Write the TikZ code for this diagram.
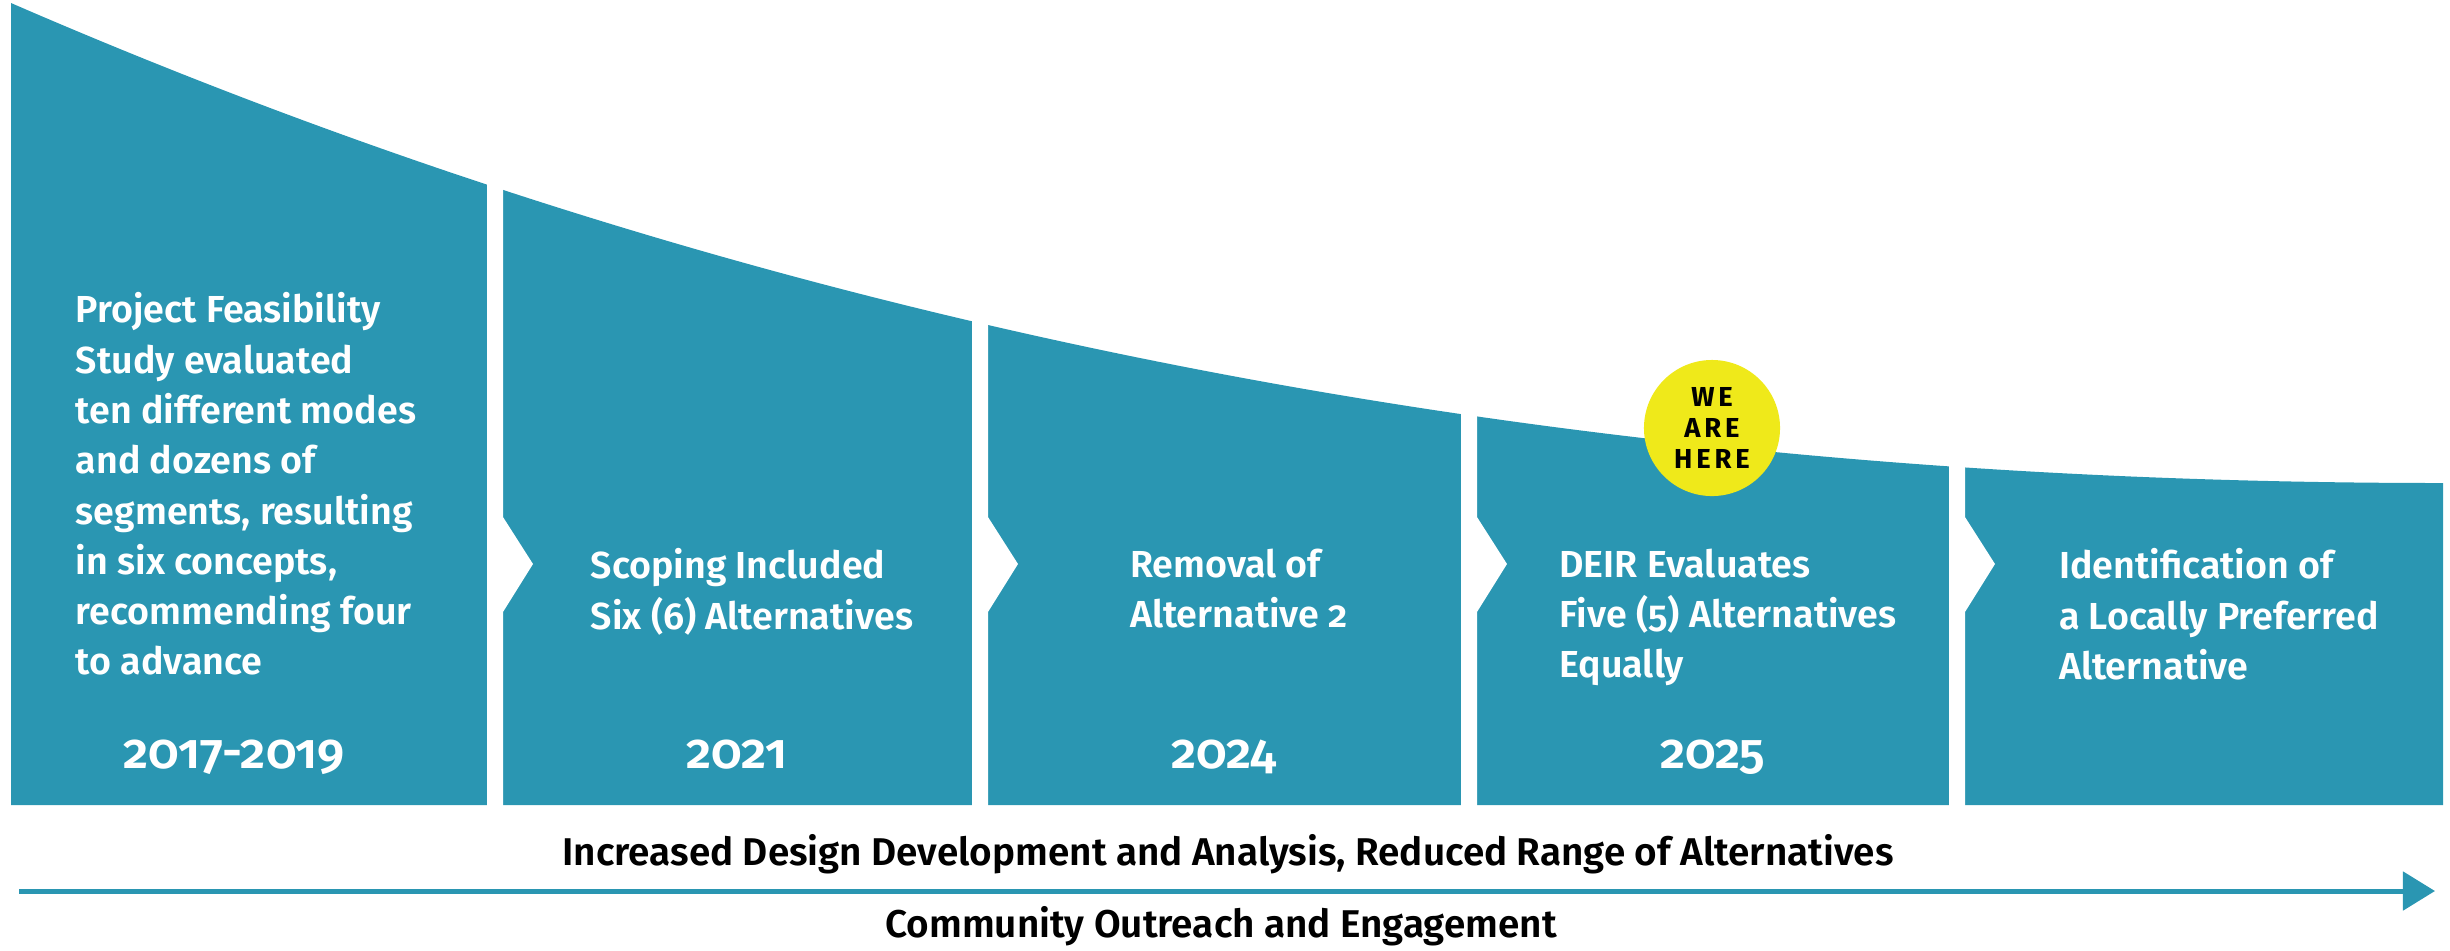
\documentclass[tikz,border=0pt]{standalone}
\usepackage{fontspec}
\setmainfont{Fira Sans}[BoldFont={Fira Sans SemiBold}, Numbers=OldStyle]
\newfontfamily\herefont{Fira Sans}[LetterSpace=14]
\usetikzlibrary{arrows.meta}
\definecolor{stageblue}{HTML}{2A96B2}
\definecolor{hereyellow}{HTML}{EFE91A}
\tikzset{
  stagetext/.style={text=white, font=\bfseries\fontsize{10.7}{14.3}\selectfont,
    align=left, anchor=north, inner sep=0pt},
  yeartext/.style={text=white, font=\bfseries\fontsize{14}{16}\selectfont,
    anchor=base, inner sep=0pt},
  axistext/.style={text=black, font=\bfseries\fontsize{11}{15}\selectfont,
    anchor=base, inner sep=0pt},
}
\begin{document}
\begin{tikzpicture}[x=0.01cm, y=-0.01cm]
  \useasboundingbox (0,0) rectangle (2450,950);
  % band under the falling curve
  \fill[stageblue] (11,3) .. controls (822,355) and (1632,483) .. (2443,483)
    -- (2443,805) -- (11,805) -- cycle;
  % white gaps, each with the notch of the next stage
  \foreach \g in {487,972,1461,1949}
    \fill[white] (\g,-5) -- (\g+16,-5) -- (\g+16,517) -- (\g+46,564)
      -- (\g+16,612) -- (\g+16,810) -- (\g,810) -- cycle;
  % stage texts
  \node[stagetext] (feasibility) at (246,292) {Project Feasibility\\Study evaluated\\ten different modes\\and dozens of\\segments, resulting\\in six concepts,\\recommending four\\to advance};
  \node[stagetext] (scoping) at (752,548) {Scoping Included\\Six (6) Alternatives};
  \node[stagetext] (removal) at (1239,548) {Removal of\\Alternative 2};
  \node[stagetext] (deir) at (1728,548) {DEIR Evaluates\\Five (5) Alternatives\\Equally};
  \node[stagetext] (lpa) at (2219,548) {Identification of\\a Locally Preferred\\Alternative};
  % years
  \node[yeartext] (y1) at (234,768) {2017-2019};
  \node[yeartext] (y2) at (737,768) {2021};
  \node[yeartext] (y3) at (1224,768) {2024};
  \node[yeartext] (y4) at (1713,768) {2025};
  % marker
  \node[circle, fill=hereyellow, minimum size=1.36cm, inner sep=0pt, align=center,
    font=\herefont\bfseries\fontsize{7.8}{8.8}\selectfont] (here) at (1712,428) {WE\\ARE\\HERE};
  % axis
  \coordinate (axisstart) at (19,891);
  \coordinate (axisend) at (2435,891);
  \draw[stageblue, line width=0.05cm, -{Triangle[length=0.32cm, width=0.38cm]}]
    (axisstart) -- (axisend);
  \node[axistext] (design) at (1228,865) {Increased Design Development and Analysis, Reduced Range of Alternatives};
  \node[axistext] (outreach) at (1221,937) {Community Outreach and Engagement};
\end{tikzpicture}
\end{document}
